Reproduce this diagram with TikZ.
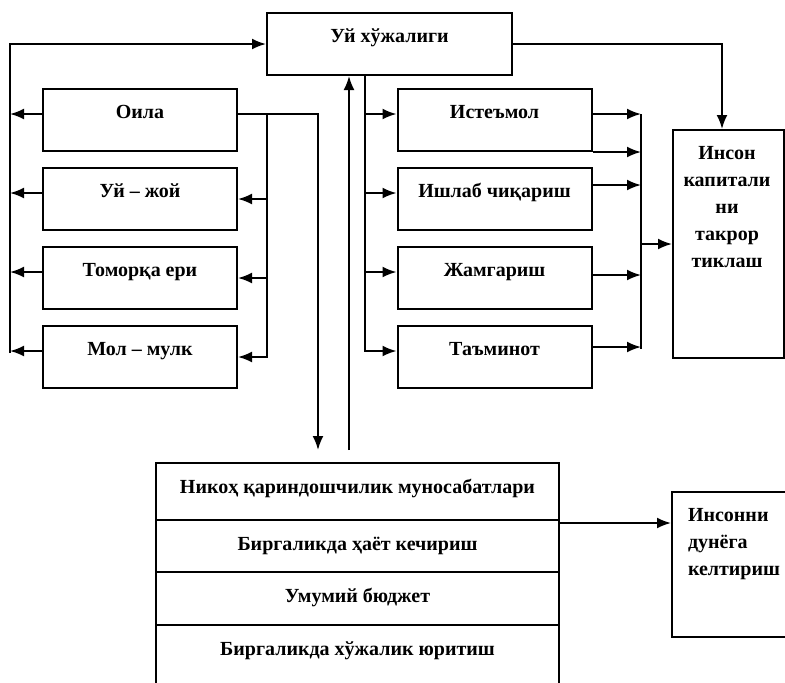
\documentclass[tikz,border=0pt]{standalone}
\usepackage{fontspec}
\setmainfont{Liberation Serif}
\usetikzlibrary{arrows.meta,positioning}

\tikzset{
  blk/.style={draw, minimum width=97pt, inner xsep=2pt, inner ysep=0pt, text height=14.5pt, text depth=16.5pt},
  row/.style={draw, minimum width=201.5pt, inner ysep=0pt, outer sep=0pt, text height=15pt},
  tall/.style={draw, inner sep=0pt}
}

\begin{document}
\begin{tikzpicture}[>={Latex[length=7pt,width=5.5pt]},line width=1pt,x=0.5pt,y=-0.5pt,node distance=7.5pt,
    font=\fontsize{10}{13.5}\selectfont\bfseries]
  \useasboundingbox (0,0) rectangle (785,682);

  \node [blk, minimum width=122.5pt] (uy) at (389.5,44) {Уй хўжалиги};

  % left column
  \node [blk]                     (oila)    at (140,120) {Оила};
  \node [blk, below=of oila]      (uyjoy)   {Уй – жой};
  \node [blk, below=of uyjoy]     (tomorka) {Томорқа ери};
  \node [blk, below=of tomorka]   (molmulk) {Мол – мулк};

  % right column
  \node [blk]                     (istemol) at (494.5,120) {Истеъмол};
  \node [blk, below=of istemol]   (ishlab)  {Ишлаб чиқариш};
  \node [blk, below=of ishlab]    (jamgar)  {Жамгариш};
  \node [blk, below=of jamgar]    (taminot) {Таъминот};

  \node [tall, minimum width=55.5pt, minimum height=114pt] (inson) at (728.5,244) {};
  \node [align=center, anchor=north, inner sep=0pt] (insontxt)
        at ([xshift=-0.75pt,yshift=-8pt]inson.north) {Инсон\\капитали\\ни\\такрор\\тиклаш};

  % bottom table
  \node [row, text depth=13.5pt]                  (nikoh)    at (357.5,491.5) {Никоҳ қариндошчилик муносабатлари};
  \node [row, text depth=11pt, below=0pt of nikoh]   (hayot)    {Биргаликда ҳаёт кечириш};
  \node [row, text depth=11.5pt, below=0pt of hayot] (budjet)   {Умумий бюджет};
  \node [row, text depth=25pt, below=0pt of budjet]  (yuritish) {Биргаликда хўжалик юритиш};

  \node [tall, minimum width=59pt, minimum height=72.5pt] (insonni) at (731,564.5) {};
  \node [align=left, anchor=north west, inner sep=0pt] (insonnitxt)
        at ([xshift=8pt,yshift=-8pt]insonni.north west) {Инсонни\\дунёга\\келтириш};

  \coordinate (lx) at (10,0);
  \coordinate (rx) at (267,0);
  \coordinate (bx) at (365,0);
  \coordinate (ox) at (641,0);

  % left bus
  \draw [->] ([yshift=2pt]molmulk.west -| lx) -- (uy.west -| lx) -- (uy.west);
  \draw [->] ([yshift=3pt]oila.west) -- ([yshift=3pt]oila.west -| lx);
  \draw [->] ([yshift=3pt]uyjoy.west) -- ([yshift=3pt]uyjoy.west -| lx);
  \draw [->] ([yshift=3pt]tomorka.west) -- ([yshift=3pt]tomorka.west -| lx);
  \draw [->] ([yshift=3pt]molmulk.west) -- ([yshift=3pt]molmulk.west -| lx);

  % from Оила
  \draw [->,shorten >=6.5pt] ([yshift=3pt]oila.east) -| ([xshift=-19.75pt]nikoh.north);
  \draw [->] ([yshift=3pt]oila.east -| rx) |- (molmulk.east);
  \draw [->] (uyjoy.east -| rx) -- (uyjoy.east);
  \draw [->] (tomorka.east -| rx) -- (tomorka.east);

  \draw [->,shorten <=6.5pt] ([xshift=-4.25pt]nikoh.north) -- ([xshift=-4.25pt]nikoh.north |- uy.south);

  % right bus
  \draw [->] (uy.south -| bx) |- ([yshift=3pt]taminot.west);
  \draw [->] ([yshift=3pt]istemol.west -| bx) -- ([yshift=3pt]istemol.west);
  \draw [->] ([yshift=3pt]ishlab.west -| bx) -- ([yshift=3pt]ishlab.west);
  \draw [->] ([yshift=3pt]jamgar.west -| bx) -- ([yshift=3pt]jamgar.west);

  % outputs
  \draw [->] ([yshift=3pt]istemol.east) -- ([yshift=3pt]istemol.east -| ox);
  \draw [->] (istemol.south east) -- (istemol.south east -| ox);
  \draw [->] ([yshift=7pt]ishlab.east) -- ([yshift=7pt]ishlab.east -| ox);
  \draw [->] ([yshift=1.5pt]jamgar.east) -- ([yshift=1.5pt]jamgar.east -| ox);
  \draw [->] ([yshift=5pt]taminot.east) -- ([yshift=5pt]taminot.east -| ox);
  \draw ([yshift=3pt]istemol.east -| ox) -- ([yshift=4pt]taminot.east -| ox);
  \draw [->] (inson.west -| ox) -- (inson.west);

  \draw [->] (uy.east) -| ([xshift=-3.25pt]inson.north);
  \draw [->] ([yshift=-1.5pt]hayot.north east) -- ([yshift=-1.5pt]hayot.north east -| insonni.west);
\end{tikzpicture}
\end{document}
